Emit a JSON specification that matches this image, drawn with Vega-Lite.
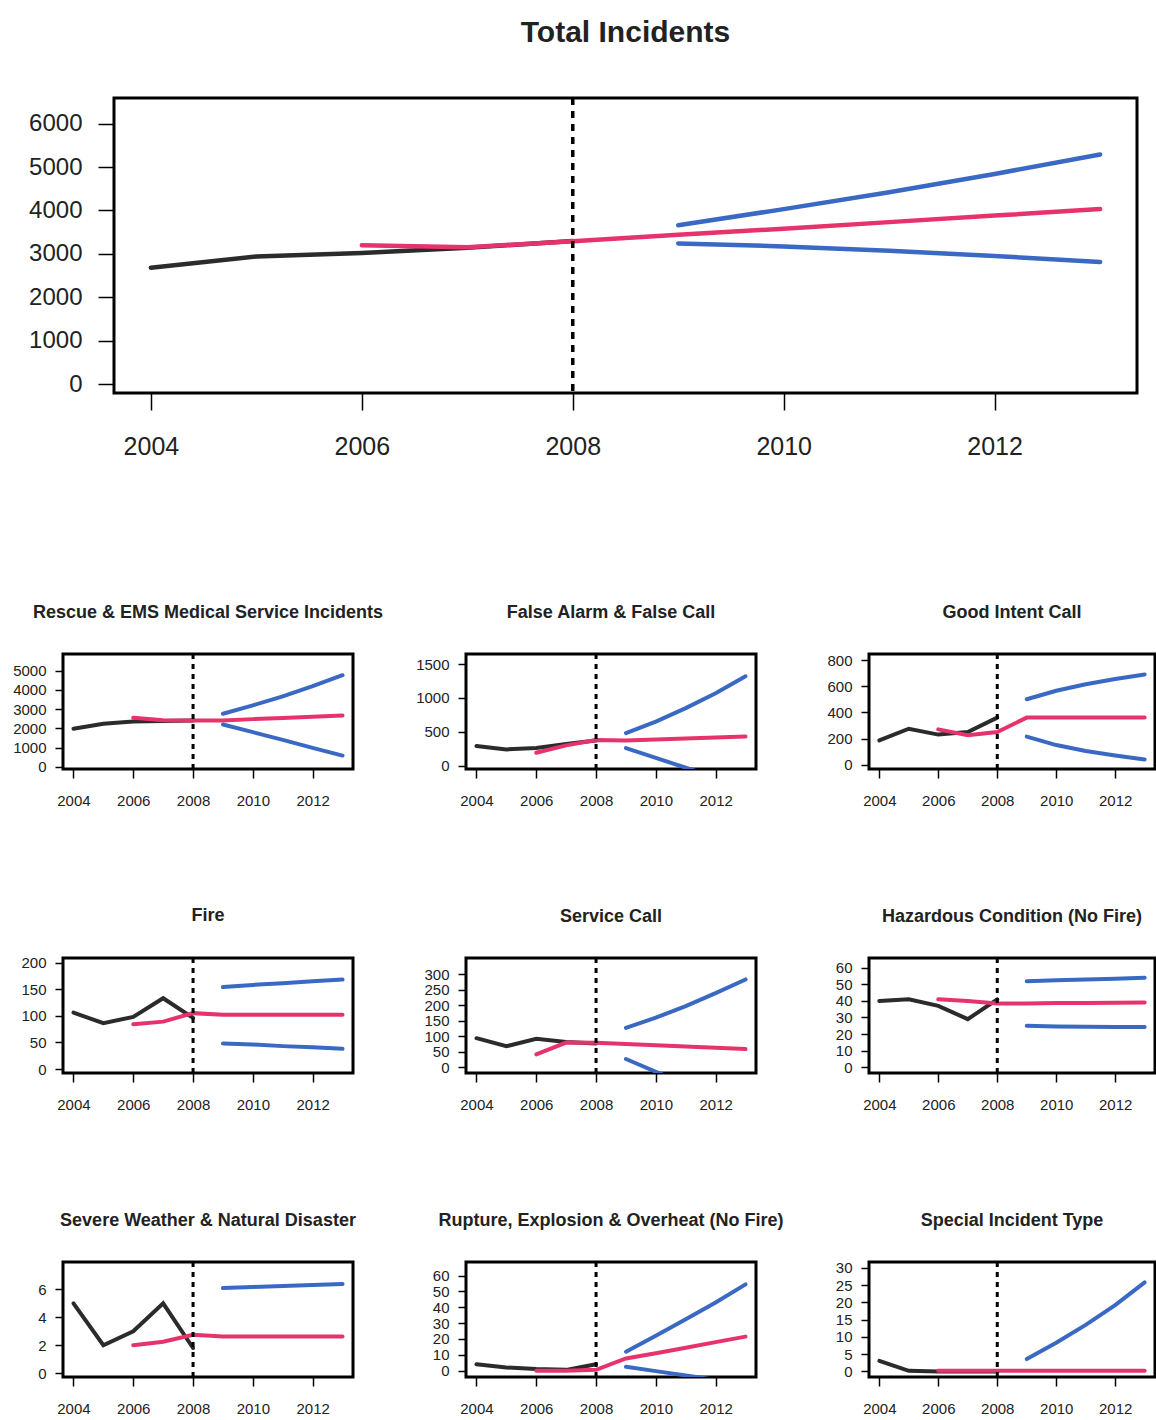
{
  "$schema": "https://vega.github.io/schema/vega-lite/v6.json",
  "padding": {"left": 11, "top": 16, "right": 0, "bottom": 0},
  "autosize": {"type": "pad"},
  "background": "white",
  "config": {
    "view": {"stroke": "black", "strokeWidth": 3},
    "axis": {"grid": false, "domain": false, "tickColor": "black", "tickWidth": 1.5, "labelColor": "#222222", "labelFont": "Liberation Sans", "format": "d"},
    "axisX": {"labelFontSize": 15, "tickSize": 9, "labelPadding": 15},
    "axisY": {"labelFontSize": 15, "tickSize": 8, "labelPadding": 9},
    "title": {"font": "Liberation Sans", "fontWeight": "bold", "fontSize": 18, "color": "#222222", "baseline": "alphabetic", "frame": "group", "anchor": "middle", "offset": 31}
  },
  "datasets": {
    "d": [
      {"panel": "total", "series": "obs", "year": 2004, "value": 2680},
      {"panel": "total", "series": "obs", "year": 2005, "value": 2940},
      {"panel": "total", "series": "obs", "year": 2006, "value": 3020},
      {"panel": "total", "series": "obs", "year": 2007, "value": 3140},
      {"panel": "total", "series": "obs", "year": 2008, "value": 3295},
      {"panel": "total", "series": "fit", "year": 2006, "value": 3200},
      {"panel": "total", "series": "fit", "year": 2007, "value": 3150},
      {"panel": "total", "series": "fit", "year": 2008, "value": 3290},
      {"panel": "total", "series": "fit", "year": 2009, "value": 3440},
      {"panel": "total", "series": "fit", "year": 2010, "value": 3580},
      {"panel": "total", "series": "fit", "year": 2011, "value": 3730},
      {"panel": "total", "series": "fit", "year": 2012, "value": 3880},
      {"panel": "total", "series": "fit", "year": 2013, "value": 4030},
      {"panel": "total", "series": "hi", "year": 2009, "value": 3660},
      {"panel": "total", "series": "hi", "year": 2010, "value": 4030},
      {"panel": "total", "series": "hi", "year": 2011, "value": 4420},
      {"panel": "total", "series": "hi", "year": 2012, "value": 4840},
      {"panel": "total", "series": "hi", "year": 2013, "value": 5290},
      {"panel": "total", "series": "lo", "year": 2009, "value": 3240},
      {"panel": "total", "series": "lo", "year": 2010, "value": 3170},
      {"panel": "total", "series": "lo", "year": 2011, "value": 3070},
      {"panel": "total", "series": "lo", "year": 2012, "value": 2950},
      {"panel": "total", "series": "lo", "year": 2013, "value": 2810},

      {"panel": "rescue", "series": "obs", "year": 2004, "value": 1980},
      {"panel": "rescue", "series": "obs", "year": 2005, "value": 2240},
      {"panel": "rescue", "series": "obs", "year": 2006, "value": 2360},
      {"panel": "rescue", "series": "obs", "year": 2007, "value": 2380},
      {"panel": "rescue", "series": "obs", "year": 2008, "value": 2410},
      {"panel": "rescue", "series": "fit", "year": 2006, "value": 2550},
      {"panel": "rescue", "series": "fit", "year": 2007, "value": 2420},
      {"panel": "rescue", "series": "fit", "year": 2008, "value": 2410},
      {"panel": "rescue", "series": "fit", "year": 2009, "value": 2410},
      {"panel": "rescue", "series": "fit", "year": 2010, "value": 2480},
      {"panel": "rescue", "series": "fit", "year": 2011, "value": 2540},
      {"panel": "rescue", "series": "fit", "year": 2012, "value": 2600},
      {"panel": "rescue", "series": "fit", "year": 2013, "value": 2670},
      {"panel": "rescue", "series": "hi", "year": 2009, "value": 2760},
      {"panel": "rescue", "series": "hi", "year": 2010, "value": 3200},
      {"panel": "rescue", "series": "hi", "year": 2011, "value": 3670},
      {"panel": "rescue", "series": "hi", "year": 2012, "value": 4200},
      {"panel": "rescue", "series": "hi", "year": 2013, "value": 4770},
      {"panel": "rescue", "series": "lo", "year": 2009, "value": 2200},
      {"panel": "rescue", "series": "lo", "year": 2010, "value": 1800},
      {"panel": "rescue", "series": "lo", "year": 2011, "value": 1400},
      {"panel": "rescue", "series": "lo", "year": 2012, "value": 980},
      {"panel": "rescue", "series": "lo", "year": 2013, "value": 580},

      {"panel": "false", "series": "obs", "year": 2004, "value": 290},
      {"panel": "false", "series": "obs", "year": 2005, "value": 240},
      {"panel": "false", "series": "obs", "year": 2006, "value": 260},
      {"panel": "false", "series": "obs", "year": 2007, "value": 320},
      {"panel": "false", "series": "obs", "year": 2008, "value": 370},
      {"panel": "false", "series": "fit", "year": 2006, "value": 190},
      {"panel": "false", "series": "fit", "year": 2007, "value": 300},
      {"panel": "false", "series": "fit", "year": 2008, "value": 380},
      {"panel": "false", "series": "fit", "year": 2009, "value": 370},
      {"panel": "false", "series": "fit", "year": 2010, "value": 385},
      {"panel": "false", "series": "fit", "year": 2011, "value": 400},
      {"panel": "false", "series": "fit", "year": 2012, "value": 415},
      {"panel": "false", "series": "fit", "year": 2013, "value": 430},
      {"panel": "false", "series": "hi", "year": 2009, "value": 480},
      {"panel": "false", "series": "hi", "year": 2010, "value": 650},
      {"panel": "false", "series": "hi", "year": 2011, "value": 850},
      {"panel": "false", "series": "hi", "year": 2012, "value": 1070},
      {"panel": "false", "series": "hi", "year": 2013, "value": 1320},
      {"panel": "false", "series": "lo", "year": 2009, "value": 260},
      {"panel": "false", "series": "lo", "year": 2010, "value": 115},
      {"panel": "false", "series": "lo", "year": 2011, "value": -30},
      {"panel": "false", "series": "lo", "year": 2012, "value": -175},
      {"panel": "false", "series": "lo", "year": 2013, "value": -320},

      {"panel": "good", "series": "obs", "year": 2004, "value": 185},
      {"panel": "good", "series": "obs", "year": 2005, "value": 275},
      {"panel": "good", "series": "obs", "year": 2006, "value": 230},
      {"panel": "good", "series": "obs", "year": 2007, "value": 250},
      {"panel": "good", "series": "obs", "year": 2008, "value": 360},
      {"panel": "good", "series": "fit", "year": 2006, "value": 270},
      {"panel": "good", "series": "fit", "year": 2007, "value": 225},
      {"panel": "good", "series": "fit", "year": 2008, "value": 250},
      {"panel": "good", "series": "fit", "year": 2009, "value": 360},
      {"panel": "good", "series": "fit", "year": 2010, "value": 360},
      {"panel": "good", "series": "fit", "year": 2011, "value": 360},
      {"panel": "good", "series": "fit", "year": 2012, "value": 360},
      {"panel": "good", "series": "fit", "year": 2013, "value": 360},
      {"panel": "good", "series": "hi", "year": 2009, "value": 500},
      {"panel": "good", "series": "hi", "year": 2010, "value": 565},
      {"panel": "good", "series": "hi", "year": 2011, "value": 615},
      {"panel": "good", "series": "hi", "year": 2012, "value": 655},
      {"panel": "good", "series": "hi", "year": 2013, "value": 690},
      {"panel": "good", "series": "lo", "year": 2009, "value": 215},
      {"panel": "good", "series": "lo", "year": 2010, "value": 150},
      {"panel": "good", "series": "lo", "year": 2011, "value": 105},
      {"panel": "good", "series": "lo", "year": 2012, "value": 70},
      {"panel": "good", "series": "lo", "year": 2013, "value": 40},

      {"panel": "fire", "series": "obs", "year": 2004, "value": 106},
      {"panel": "fire", "series": "obs", "year": 2005, "value": 86},
      {"panel": "fire", "series": "obs", "year": 2006, "value": 98},
      {"panel": "fire", "series": "obs", "year": 2007, "value": 133},
      {"panel": "fire", "series": "obs", "year": 2008, "value": 96},
      {"panel": "fire", "series": "fit", "year": 2006, "value": 84},
      {"panel": "fire", "series": "fit", "year": 2007, "value": 89},
      {"panel": "fire", "series": "fit", "year": 2008, "value": 105},
      {"panel": "fire", "series": "fit", "year": 2009, "value": 102},
      {"panel": "fire", "series": "fit", "year": 2010, "value": 102},
      {"panel": "fire", "series": "fit", "year": 2011, "value": 102},
      {"panel": "fire", "series": "fit", "year": 2012, "value": 102},
      {"panel": "fire", "series": "fit", "year": 2013, "value": 102},
      {"panel": "fire", "series": "hi", "year": 2009, "value": 154},
      {"panel": "fire", "series": "hi", "year": 2010, "value": 158},
      {"panel": "fire", "series": "hi", "year": 2011, "value": 161},
      {"panel": "fire", "series": "hi", "year": 2012, "value": 165},
      {"panel": "fire", "series": "hi", "year": 2013, "value": 168},
      {"panel": "fire", "series": "lo", "year": 2009, "value": 48},
      {"panel": "fire", "series": "lo", "year": 2010, "value": 46},
      {"panel": "fire", "series": "lo", "year": 2011, "value": 43},
      {"panel": "fire", "series": "lo", "year": 2012, "value": 41},
      {"panel": "fire", "series": "lo", "year": 2013, "value": 38},

      {"panel": "service", "series": "obs", "year": 2004, "value": 94},
      {"panel": "service", "series": "obs", "year": 2005, "value": 68},
      {"panel": "service", "series": "obs", "year": 2006, "value": 92},
      {"panel": "service", "series": "obs", "year": 2007, "value": 82},
      {"panel": "service", "series": "obs", "year": 2008, "value": 77},
      {"panel": "service", "series": "fit", "year": 2006, "value": 42},
      {"panel": "service", "series": "fit", "year": 2007, "value": 80},
      {"panel": "service", "series": "fit", "year": 2008, "value": 79},
      {"panel": "service", "series": "fit", "year": 2009, "value": 75},
      {"panel": "service", "series": "fit", "year": 2010, "value": 71},
      {"panel": "service", "series": "fit", "year": 2011, "value": 67},
      {"panel": "service", "series": "fit", "year": 2012, "value": 63},
      {"panel": "service", "series": "fit", "year": 2013, "value": 59},
      {"panel": "service", "series": "hi", "year": 2009, "value": 127},
      {"panel": "service", "series": "hi", "year": 2010, "value": 160},
      {"panel": "service", "series": "hi", "year": 2011, "value": 197},
      {"panel": "service", "series": "hi", "year": 2012, "value": 239},
      {"panel": "service", "series": "hi", "year": 2013, "value": 283},
      {"panel": "service", "series": "lo", "year": 2009, "value": 27},
      {"panel": "service", "series": "lo", "year": 2010, "value": -14},
      {"panel": "service", "series": "lo", "year": 2011, "value": -55},
      {"panel": "service", "series": "lo", "year": 2012, "value": -96},
      {"panel": "service", "series": "lo", "year": 2013, "value": -137},

      {"panel": "hazard", "series": "obs", "year": 2004, "value": 40},
      {"panel": "hazard", "series": "obs", "year": 2005, "value": 41},
      {"panel": "hazard", "series": "obs", "year": 2006, "value": 37},
      {"panel": "hazard", "series": "obs", "year": 2007, "value": 29},
      {"panel": "hazard", "series": "obs", "year": 2008, "value": 41},
      {"panel": "hazard", "series": "fit", "year": 2006, "value": 41},
      {"panel": "hazard", "series": "fit", "year": 2007, "value": 40},
      {"panel": "hazard", "series": "fit", "year": 2008, "value": 38.5},
      {"panel": "hazard", "series": "fit", "year": 2009, "value": 38.5},
      {"panel": "hazard", "series": "fit", "year": 2010, "value": 38.7},
      {"panel": "hazard", "series": "fit", "year": 2011, "value": 38.8},
      {"panel": "hazard", "series": "fit", "year": 2012, "value": 38.9},
      {"panel": "hazard", "series": "fit", "year": 2013, "value": 39},
      {"panel": "hazard", "series": "hi", "year": 2009, "value": 52},
      {"panel": "hazard", "series": "hi", "year": 2010, "value": 52.5},
      {"panel": "hazard", "series": "hi", "year": 2011, "value": 53},
      {"panel": "hazard", "series": "hi", "year": 2012, "value": 53.5},
      {"panel": "hazard", "series": "hi", "year": 2013, "value": 54},
      {"panel": "hazard", "series": "lo", "year": 2009, "value": 25},
      {"panel": "hazard", "series": "lo", "year": 2010, "value": 24.6},
      {"panel": "hazard", "series": "lo", "year": 2011, "value": 24.4},
      {"panel": "hazard", "series": "lo", "year": 2012, "value": 24.3},
      {"panel": "hazard", "series": "lo", "year": 2013, "value": 24.2},

      {"panel": "severe", "series": "obs", "year": 2004, "value": 5},
      {"panel": "severe", "series": "obs", "year": 2005, "value": 2},
      {"panel": "severe", "series": "obs", "year": 2006, "value": 3},
      {"panel": "severe", "series": "obs", "year": 2007, "value": 5},
      {"panel": "severe", "series": "obs", "year": 2008, "value": 1.8},
      {"panel": "severe", "series": "fit", "year": 2006, "value": 2},
      {"panel": "severe", "series": "fit", "year": 2007, "value": 2.25},
      {"panel": "severe", "series": "fit", "year": 2008, "value": 2.75},
      {"panel": "severe", "series": "fit", "year": 2009, "value": 2.62},
      {"panel": "severe", "series": "fit", "year": 2010, "value": 2.62},
      {"panel": "severe", "series": "fit", "year": 2011, "value": 2.62},
      {"panel": "severe", "series": "fit", "year": 2012, "value": 2.62},
      {"panel": "severe", "series": "fit", "year": 2013, "value": 2.62},
      {"panel": "severe", "series": "hi", "year": 2009, "value": 6.1},
      {"panel": "severe", "series": "hi", "year": 2010, "value": 6.18},
      {"panel": "severe", "series": "hi", "year": 2011, "value": 6.25},
      {"panel": "severe", "series": "hi", "year": 2012, "value": 6.32},
      {"panel": "severe", "series": "hi", "year": 2013, "value": 6.4},

      {"panel": "rupture", "series": "obs", "year": 2004, "value": 4},
      {"panel": "rupture", "series": "obs", "year": 2005, "value": 2},
      {"panel": "rupture", "series": "obs", "year": 2006, "value": 1},
      {"panel": "rupture", "series": "obs", "year": 2007, "value": 0.5},
      {"panel": "rupture", "series": "obs", "year": 2008, "value": 4},
      {"panel": "rupture", "series": "fit", "year": 2006, "value": 0},
      {"panel": "rupture", "series": "fit", "year": 2007, "value": 0},
      {"panel": "rupture", "series": "fit", "year": 2008, "value": 0.5},
      {"panel": "rupture", "series": "fit", "year": 2009, "value": 7.7},
      {"panel": "rupture", "series": "fit", "year": 2010, "value": 11},
      {"panel": "rupture", "series": "fit", "year": 2011, "value": 14.5},
      {"panel": "rupture", "series": "fit", "year": 2012, "value": 18},
      {"panel": "rupture", "series": "fit", "year": 2013, "value": 21.5},
      {"panel": "rupture", "series": "hi", "year": 2009, "value": 12},
      {"panel": "rupture", "series": "hi", "year": 2010, "value": 22},
      {"panel": "rupture", "series": "hi", "year": 2011, "value": 32.5},
      {"panel": "rupture", "series": "hi", "year": 2012, "value": 43},
      {"panel": "rupture", "series": "hi", "year": 2013, "value": 54.5},
      {"panel": "rupture", "series": "lo", "year": 2009, "value": 2.5},
      {"panel": "rupture", "series": "lo", "year": 2010, "value": -0.3},
      {"panel": "rupture", "series": "lo", "year": 2011, "value": -3},
      {"panel": "rupture", "series": "lo", "year": 2012, "value": -5.8},
      {"panel": "rupture", "series": "lo", "year": 2013, "value": -8.5},

      {"panel": "special", "series": "obs", "year": 2004, "value": 3.1},
      {"panel": "special", "series": "obs", "year": 2005, "value": 0.2},
      {"panel": "special", "series": "obs", "year": 2006, "value": 0},
      {"panel": "special", "series": "obs", "year": 2007, "value": 0},
      {"panel": "special", "series": "obs", "year": 2008, "value": 0},
      {"panel": "special", "series": "fit", "year": 2006, "value": 0.2},
      {"panel": "special", "series": "fit", "year": 2007, "value": 0.2},
      {"panel": "special", "series": "fit", "year": 2008, "value": 0.2},
      {"panel": "special", "series": "fit", "year": 2009, "value": 0.2},
      {"panel": "special", "series": "fit", "year": 2010, "value": 0.2},
      {"panel": "special", "series": "fit", "year": 2011, "value": 0.2},
      {"panel": "special", "series": "fit", "year": 2012, "value": 0.2},
      {"panel": "special", "series": "fit", "year": 2013, "value": 0.2},
      {"panel": "special", "series": "hi", "year": 2009, "value": 3.6},
      {"panel": "special", "series": "hi", "year": 2010, "value": 8.3},
      {"panel": "special", "series": "hi", "year": 2011, "value": 13.5},
      {"panel": "special", "series": "hi", "year": 2012, "value": 19.2},
      {"panel": "special", "series": "hi", "year": 2013, "value": 25.8}
    ]
  },
  "bounds": "flush",
  "spacing": 556,
  "vconcat": [
    {
      "bounds": "flush",
      "spacing": 50,
      "hconcat": [
        {"width": 1, "height": 1, "data": {"values": []}, "mark": "point", "view": {"stroke": null}},
        {
          "width": 1023, "height": 295,
          "title": {"text": "Total Incidents", "fontSize": 30, "offset": 48},
          "layer": [
            {"data": {"name": "d"}, "transform": [{"filter": "datum.panel === 'total'"}],
             "mark": {"type": "line", "strokeWidth": 4.5, "clip": true, "strokeCap": "round"},
             "encoding": {
               "x": {"field": "year", "type": "quantitative", "scale": {"domain": [2003.65, 2013.35], "nice": false, "zero": false}, "axis": {"values": [2004, 2006, 2008, 2010, 2012], "format": "d", "title": null, "labelFontSize": 25, "tickSize": 17, "labelPadding": 24}},
               "y": {"field": "value", "type": "quantitative", "scale": {"domain": [-207, 6590], "nice": false, "zero": false}, "axis": {"values": [0, 1000, 2000, 3000, 4000, 5000, 6000], "format": "d", "title": null, "labelFontSize": 24, "tickSize": 16, "labelPadding": 16}},
               "color": {"field": "series", "type": "nominal", "scale": {"domain": ["obs", "fit", "hi", "lo"], "range": ["#2b2b2b", "#e6336b", "#3a69c4", "#3a69c4"]}, "legend": null}
             }},
            {"data": {"values": [{"year": 2008}]}, "mark": {"type": "rule", "strokeDash": [7, 6], "strokeWidth": 3.5, "color": "black"}, "encoding": {"x": {"field": "year", "type": "quantitative"}}}
          ]
        }
      ]
    },
    {
      "bounds": "flush",
      "spacing": 304,
      "vconcat": [
        {
          "bounds": "flush", "spacing": 113,
          "hconcat": [
            {"width": 290, "height": 115, "title": "Rescue & EMS Medical Service Incidents",
             "layer": [
               {"data": {"name": "d"}, "transform": [{"filter": "datum.panel === 'rescue'"}],
                "mark": {"type": "line", "strokeWidth": 4, "clip": true, "strokeCap": "round"},
                "encoding": {
                  "x": {"field": "year", "type": "quantitative", "scale": {"domain": [2003.65, 2013.35], "nice": false, "zero": false}, "axis": {"values": [2004, 2006, 2008, 2010, 2012], "format": "d", "title": null}},
                  "y": {"field": "value", "type": "quantitative", "scale": {"domain": [-120, 5875], "nice": false, "zero": false}, "axis": {"values": [0, 1000, 2000, 3000, 4000, 5000], "format": "d", "title": null}},
                  "color": {"field": "series", "type": "nominal", "scale": {"domain": ["obs", "fit", "hi", "lo"], "range": ["#2b2b2b", "#e6336b", "#3a69c4", "#3a69c4"]}, "legend": null}
                }},
               {"data": {"values": [{"year": 2008}]}, "mark": {"type": "rule", "strokeDash": [5, 5], "strokeWidth": 3, "color": "black"}, "encoding": {"x": {"field": "year", "type": "quantitative"}}}
             ]},
            {"width": 290, "height": 115, "title": "False Alarm & False Call",
             "layer": [
               {"data": {"name": "d"}, "transform": [{"filter": "datum.panel === 'false'"}],
                "mark": {"type": "line", "strokeWidth": 4, "clip": true, "strokeCap": "round"},
                "encoding": {
                  "x": {"field": "year", "type": "quantitative", "scale": {"domain": [2003.65, 2013.35], "nice": false, "zero": false}, "axis": {"values": [2004, 2006, 2008, 2010, 2012], "format": "d", "title": null}},
                  "y": {"field": "value", "type": "quantitative", "scale": {"domain": [-49, 1648], "nice": false, "zero": false}, "axis": {"values": [0, 500, 1000, 1500], "format": "d", "title": null}},
                  "color": {"field": "series", "type": "nominal", "scale": {"domain": ["obs", "fit", "hi", "lo"], "range": ["#2b2b2b", "#e6336b", "#3a69c4", "#3a69c4"]}, "legend": null}
                }},
               {"data": {"values": [{"year": 2008}]}, "mark": {"type": "rule", "strokeDash": [5, 5], "strokeWidth": 3, "color": "black"}, "encoding": {"x": {"field": "year", "type": "quantitative"}}}
             ]},
            {"width": 286, "height": 115, "title": "Good Intent Call",
             "layer": [
               {"data": {"name": "d"}, "transform": [{"filter": "datum.panel === 'good'"}],
                "mark": {"type": "line", "strokeWidth": 4, "clip": true, "strokeCap": "round"},
                "encoding": {
                  "x": {"field": "year", "type": "quantitative", "scale": {"domain": [2003.65, 2013.35], "nice": false, "zero": false}, "axis": {"values": [2004, 2006, 2008, 2010, 2012], "format": "d", "title": null}},
                  "y": {"field": "value", "type": "quantitative", "scale": {"domain": [-33, 846], "nice": false, "zero": false}, "axis": {"values": [0, 200, 400, 600, 800], "format": "d", "title": null}},
                  "color": {"field": "series", "type": "nominal", "scale": {"domain": ["obs", "fit", "hi", "lo"], "range": ["#2b2b2b", "#e6336b", "#3a69c4", "#3a69c4"]}, "legend": null}
                }},
               {"data": {"values": [{"year": 2008}]}, "mark": {"type": "rule", "strokeDash": [5, 5], "strokeWidth": 3, "color": "black"}, "encoding": {"x": {"field": "year", "type": "quantitative"}}}
             ]}
          ]
        },
        {
          "bounds": "flush", "spacing": 113,
          "hconcat": [
            {"width": 290, "height": 115, "title": "Fire",
             "layer": [
               {"data": {"name": "d"}, "transform": [{"filter": "datum.panel === 'fire'"}],
                "mark": {"type": "line", "strokeWidth": 4, "clip": true, "strokeCap": "round"},
                "encoding": {
                  "x": {"field": "year", "type": "quantitative", "scale": {"domain": [2003.65, 2013.35], "nice": false, "zero": false}, "axis": {"values": [2004, 2006, 2008, 2010, 2012], "format": "d", "title": null}},
                  "y": {"field": "value", "type": "quantitative", "scale": {"domain": [-7.5, 208.6], "nice": false, "zero": false}, "axis": {"values": [0, 50, 100, 150, 200], "format": "d", "title": null}},
                  "color": {"field": "series", "type": "nominal", "scale": {"domain": ["obs", "fit", "hi", "lo"], "range": ["#2b2b2b", "#e6336b", "#3a69c4", "#3a69c4"]}, "legend": null}
                }},
               {"data": {"values": [{"year": 2008}]}, "mark": {"type": "rule", "strokeDash": [5, 5], "strokeWidth": 3, "color": "black"}, "encoding": {"x": {"field": "year", "type": "quantitative"}}}
             ]},
            {"width": 290, "height": 115, "title": "Service Call",
             "layer": [
               {"data": {"name": "d"}, "transform": [{"filter": "datum.panel === 'service'"}],
                "mark": {"type": "line", "strokeWidth": 4, "clip": true, "strokeCap": "round"},
                "encoding": {
                  "x": {"field": "year", "type": "quantitative", "scale": {"domain": [2003.65, 2013.35], "nice": false, "zero": false}, "axis": {"values": [2004, 2006, 2008, 2010, 2012], "format": "d", "title": null}},
                  "y": {"field": "value", "type": "quantitative", "scale": {"domain": [-18, 352], "nice": false, "zero": false}, "axis": {"values": [0, 50, 100, 150, 200, 250, 300], "format": "d", "title": null}},
                  "color": {"field": "series", "type": "nominal", "scale": {"domain": ["obs", "fit", "hi", "lo"], "range": ["#2b2b2b", "#e6336b", "#3a69c4", "#3a69c4"]}, "legend": null}
                }},
               {"data": {"values": [{"year": 2008}]}, "mark": {"type": "rule", "strokeDash": [5, 5], "strokeWidth": 3, "color": "black"}, "encoding": {"x": {"field": "year", "type": "quantitative"}}}
             ]},
            {"width": 286, "height": 115, "title": "Hazardous Condition (No Fire)",
             "layer": [
               {"data": {"name": "d"}, "transform": [{"filter": "datum.panel === 'hazard'"}],
                "mark": {"type": "line", "strokeWidth": 4, "clip": true, "strokeCap": "round"},
                "encoding": {
                  "x": {"field": "year", "type": "quantitative", "scale": {"domain": [2003.65, 2013.35], "nice": false, "zero": false}, "axis": {"values": [2004, 2006, 2008, 2010, 2012], "format": "d", "title": null}},
                  "y": {"field": "value", "type": "quantitative", "scale": {"domain": [-3.6, 66], "nice": false, "zero": false}, "axis": {"values": [0, 10, 20, 30, 40, 50, 60], "format": "d", "title": null}},
                  "color": {"field": "series", "type": "nominal", "scale": {"domain": ["obs", "fit", "hi", "lo"], "range": ["#2b2b2b", "#e6336b", "#3a69c4", "#3a69c4"]}, "legend": null}
                }},
               {"data": {"values": [{"year": 2008}]}, "mark": {"type": "rule", "strokeDash": [5, 5], "strokeWidth": 3, "color": "black"}, "encoding": {"x": {"field": "year", "type": "quantitative"}}}
             ]}
          ]
        },
        {
          "bounds": "flush", "spacing": 113,
          "hconcat": [
            {"width": 290, "height": 115, "title": "Severe Weather & Natural Disaster",
             "layer": [
               {"data": {"name": "d"}, "transform": [{"filter": "datum.panel === 'severe'"}],
                "mark": {"type": "line", "strokeWidth": 4, "clip": true, "strokeCap": "round"},
                "encoding": {
                  "x": {"field": "year", "type": "quantitative", "scale": {"domain": [2003.65, 2013.35], "nice": false, "zero": false}, "axis": {"values": [2004, 2006, 2008, 2010, 2012], "format": "d", "title": null}},
                  "y": {"field": "value", "type": "quantitative", "scale": {"domain": [-0.28, 7.97], "nice": false, "zero": false}, "axis": {"values": [0, 2, 4, 6], "format": "d", "title": null}},
                  "color": {"field": "series", "type": "nominal", "scale": {"domain": ["obs", "fit", "hi", "lo"], "range": ["#2b2b2b", "#e6336b", "#3a69c4", "#3a69c4"]}, "legend": null}
                }},
               {"data": {"values": [{"year": 2008}]}, "mark": {"type": "rule", "strokeDash": [5, 5], "strokeWidth": 3, "color": "black"}, "encoding": {"x": {"field": "year", "type": "quantitative"}}}
             ]},
            {"width": 290, "height": 115, "title": "Rupture, Explosion & Overheat (No Fire)",
             "layer": [
               {"data": {"name": "d"}, "transform": [{"filter": "datum.panel === 'rupture'"}],
                "mark": {"type": "line", "strokeWidth": 4, "clip": true, "strokeCap": "round"},
                "encoding": {
                  "x": {"field": "year", "type": "quantitative", "scale": {"domain": [2003.65, 2013.35], "nice": false, "zero": false}, "axis": {"values": [2004, 2006, 2008, 2010, 2012], "format": "d", "title": null}},
                  "y": {"field": "value", "type": "quantitative", "scale": {"domain": [-4, 68.6], "nice": false, "zero": false}, "axis": {"values": [0, 10, 20, 30, 40, 50, 60], "format": "d", "title": null}},
                  "color": {"field": "series", "type": "nominal", "scale": {"domain": ["obs", "fit", "hi", "lo"], "range": ["#2b2b2b", "#e6336b", "#3a69c4", "#3a69c4"]}, "legend": null}
                }},
               {"data": {"values": [{"year": 2008}]}, "mark": {"type": "rule", "strokeDash": [5, 5], "strokeWidth": 3, "color": "black"}, "encoding": {"x": {"field": "year", "type": "quantitative"}}}
             ]},
            {"width": 286, "height": 115, "title": "Special Incident Type",
             "layer": [
               {"data": {"name": "d"}, "transform": [{"filter": "datum.panel === 'special'"}],
                "mark": {"type": "line", "strokeWidth": 4, "clip": true, "strokeCap": "round"},
                "encoding": {
                  "x": {"field": "year", "type": "quantitative", "scale": {"domain": [2003.65, 2013.35], "nice": false, "zero": false}, "axis": {"values": [2004, 2006, 2008, 2010, 2012], "format": "d", "title": null}},
                  "y": {"field": "value", "type": "quantitative", "scale": {"domain": [-1.6, 31.7], "nice": false, "zero": false}, "axis": {"values": [0, 5, 10, 15, 20, 25, 30], "format": "d", "title": null}},
                  "color": {"field": "series", "type": "nominal", "scale": {"domain": ["obs", "fit", "hi", "lo"], "range": ["#2b2b2b", "#e6336b", "#3a69c4", "#3a69c4"]}, "legend": null}
                }},
               {"data": {"values": [{"year": 2008}]}, "mark": {"type": "rule", "strokeDash": [5, 5], "strokeWidth": 3, "color": "black"}, "encoding": {"x": {"field": "year", "type": "quantitative"}}}
             ]}
          ]
        }
      ]
    }
  ]
}
